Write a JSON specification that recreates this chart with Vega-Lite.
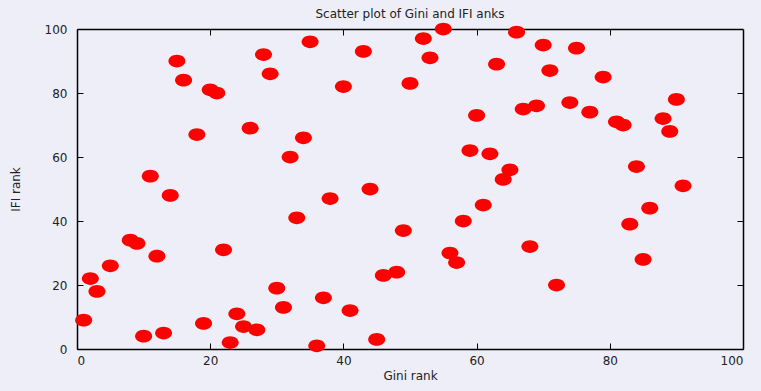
{
  "$schema": "https://vega.github.io/schema/vega-lite/v6.json",
  "width": 666,
  "height": 320,
  "autosize": {"type": "none"},
  "padding": {"left": 77, "top": 29, "right": 18, "bottom": 42},
  "background": "#eeeef9",
  "title": {
    "text": "Scatter plot of Gini and IFI anks",
    "font": "DejaVu Sans",
    "fontSize": 12,
    "fontWeight": "normal",
    "color": "#222222",
    "offset": -10,
    "baseline": "bottom"
  },
  "data": {
    "values": [
      {"gini": 1, "ifi": 9}, {"gini": 2, "ifi": 22}, {"gini": 3, "ifi": 18}, {"gini": 5, "ifi": 26},
      {"gini": 8, "ifi": 34}, {"gini": 9, "ifi": 33}, {"gini": 10, "ifi": 4}, {"gini": 11, "ifi": 54},
      {"gini": 12, "ifi": 29}, {"gini": 13, "ifi": 5}, {"gini": 14, "ifi": 48}, {"gini": 15, "ifi": 90},
      {"gini": 16, "ifi": 84}, {"gini": 18, "ifi": 67}, {"gini": 19, "ifi": 8}, {"gini": 20, "ifi": 81},
      {"gini": 21, "ifi": 80}, {"gini": 22, "ifi": 31}, {"gini": 23, "ifi": 2}, {"gini": 24, "ifi": 11},
      {"gini": 25, "ifi": 7}, {"gini": 26, "ifi": 69}, {"gini": 27, "ifi": 6}, {"gini": 28, "ifi": 92},
      {"gini": 29, "ifi": 86}, {"gini": 30, "ifi": 19}, {"gini": 31, "ifi": 13}, {"gini": 32, "ifi": 60},
      {"gini": 33, "ifi": 41}, {"gini": 34, "ifi": 66}, {"gini": 35, "ifi": 96}, {"gini": 36, "ifi": 1},
      {"gini": 37, "ifi": 16}, {"gini": 38, "ifi": 47}, {"gini": 40, "ifi": 82}, {"gini": 41, "ifi": 12},
      {"gini": 43, "ifi": 93}, {"gini": 44, "ifi": 50}, {"gini": 45, "ifi": 3}, {"gini": 46, "ifi": 23},
      {"gini": 48, "ifi": 24}, {"gini": 49, "ifi": 37}, {"gini": 50, "ifi": 83}, {"gini": 52, "ifi": 97},
      {"gini": 53, "ifi": 91}, {"gini": 55, "ifi": 100}, {"gini": 56, "ifi": 30}, {"gini": 57, "ifi": 27},
      {"gini": 58, "ifi": 40}, {"gini": 59, "ifi": 62}, {"gini": 60, "ifi": 73}, {"gini": 61, "ifi": 45},
      {"gini": 62, "ifi": 61}, {"gini": 63, "ifi": 89}, {"gini": 64, "ifi": 53}, {"gini": 65, "ifi": 56},
      {"gini": 66, "ifi": 99}, {"gini": 67, "ifi": 75}, {"gini": 68, "ifi": 32}, {"gini": 69, "ifi": 76},
      {"gini": 70, "ifi": 95}, {"gini": 71, "ifi": 87}, {"gini": 72, "ifi": 20}, {"gini": 74, "ifi": 77},
      {"gini": 75, "ifi": 94}, {"gini": 77, "ifi": 74}, {"gini": 79, "ifi": 85}, {"gini": 81, "ifi": 71},
      {"gini": 82, "ifi": 70}, {"gini": 83, "ifi": 39}, {"gini": 84, "ifi": 57}, {"gini": 85, "ifi": 28},
      {"gini": 86, "ifi": 44}, {"gini": 88, "ifi": 72}, {"gini": 89, "ifi": 68}, {"gini": 90, "ifi": 78},
      {"gini": 91, "ifi": 51}
    ]
  },
  "layer": [
    {
      "mark": {
        "type": "point",
        "filled": true,
        "shape": "M-1,0A1,0.75,0,1,1,1,0A1,0.75,0,1,1,-1,0Z",
        "size": 289,
        "color": "#ff0000",
        "opacity": 1,
        "strokeWidth": 0,
        "clip": false
      },
      "encoding": {
        "x": {
          "field": "gini",
          "type": "quantitative",
          "scale": {"domain": [0, 100], "nice": false, "zero": false},
          "title": "Gini rank",
          "axis": {"orient": "bottom", "values": [0, 20, 40, 60, 80, 100], "labelPadding": 12, "titlePadding": 4}
        },
        "y": {
          "field": "ifi",
          "type": "quantitative",
          "scale": {"domain": [0, 100], "nice": false, "zero": false},
          "title": "IFI rank",
          "axis": {"orient": "left", "values": [0, 20, 40, 60, 80, 100], "labelPadding": 16, "titlePadding": 22}
        }
      }
    },
    {
      "mark": {"type": "point", "opacity": 0},
      "encoding": {
        "x": {
          "field": "gini",
          "type": "quantitative",
          "axis": {"orient": "top", "values": [20, 40, 60, 80], "labels": false, "title": null, "minExtent": 0, "maxExtent": 0}
        },
        "y": {
          "field": "ifi",
          "type": "quantitative",
          "axis": {"orient": "right", "values": [20, 40, 60, 80], "labels": false, "title": null, "minExtent": 0, "maxExtent": 0}
        }
      }
    }
  ],
  "resolve": {"axis": {"x": "independent", "y": "independent"}},
  "config": {
    "view": {"stroke": null},
    "axis": {
      "grid": false,
      "domainColor": "#000000",
      "domainWidth": 1.5,
      "tickColor": "#000000",
      "tickWidth": 1,
      "tickSize": -6,
      "labelFont": "DejaVu Sans",
      "labelFontSize": 12,
      "labelColor": "#222222",
      "titleFont": "DejaVu Sans",
      "titleFontSize": 12,
      "titleFontWeight": "normal",
      "titleColor": "#222222"
    }
  }
}
